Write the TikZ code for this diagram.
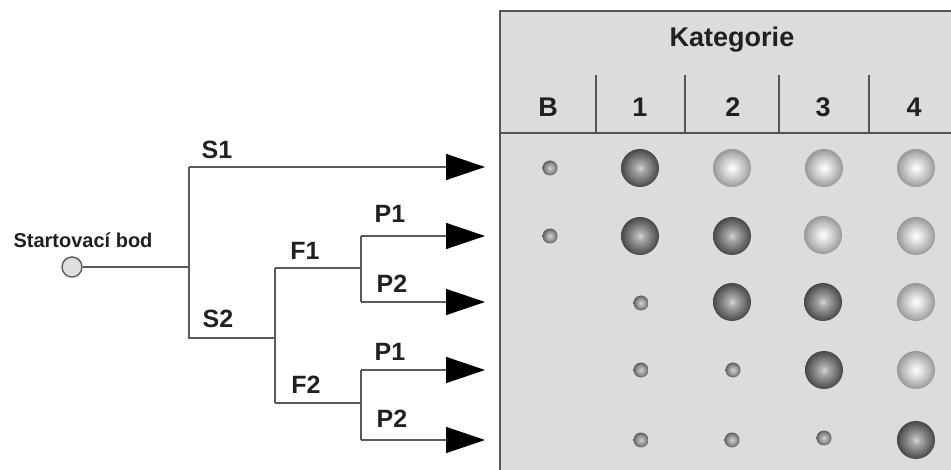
\documentclass[tikz,border=0pt]{standalone}
\usepackage{fontspec}
\setmainfont{Liberation Sans}
\usetikzlibrary{arrows.meta}

% sphere shadings: dark, light and small grey balls
\pgfdeclareradialshading{balldark}{\pgfpoint{0bp}{0bp}}{rgb(0bp)=(0.84,0.84,0.84); rgb(5bp)=(0.68,0.68,0.68); rgb(18bp)=(0.42,0.42,0.42); rgb(27bp)=(0.24,0.24,0.24); rgb(32bp)=(0.15,0.15,0.15); rgb(50bp)=(0.15,0.15,0.15)}
\pgfdeclareradialshading{balllight}{\pgfpoint{0bp}{0bp}}{rgb(0bp)=(1,1,1); rgb(5bp)=(0.93,0.93,0.93); rgb(18bp)=(0.72,0.72,0.72); rgb(27bp)=(0.56,0.56,0.56); rgb(32bp)=(0.42,0.42,0.42); rgb(50bp)=(0.42,0.42,0.42)}
\pgfdeclareradialshading{ballsmall}{\pgfpoint{0bp}{0bp}}{rgb(0bp)=(0.82,0.82,0.82); rgb(14bp)=(0.60,0.60,0.60); rgb(26bp)=(0.36,0.36,0.36); rgb(32bp)=(0.22,0.22,0.22); rgb(50bp)=(0.22,0.22,0.22)}

\definecolor{panelgray}{RGB}{220,220,223}
\definecolor{framegray}{RGB}{85,85,85}
\definecolor{linegray}{RGB}{90,90,90}
\definecolor{textdark}{RGB}{35,31,32}

\tikzset{
  tree/.style={draw=linegray, line width=1.4pt},
  branch/.style={tree, -{Triangle[length=39pt,width=26pt,black]}},
  lbl/.style={anchor=base, inner sep=0pt, text=textdark, font=\bfseries\fontsize{25}{30}\selectfont},
  startlbl/.style={anchor=base, inner sep=0pt, text=textdark, font=\bfseries\fontsize{20}{24}\selectfont},
  headlbl/.style={anchor=base, inner sep=0pt, text=textdark, font=\bfseries\fontsize{27}{32}\selectfont},
  startpt/.style={circle, draw=linegray, line width=1.4pt, fill=panelgray!90!white, minimum size=20pt, inner sep=0pt},
  bigdark/.style={circle, minimum size=38pt, inner sep=0pt, shading=balldark},
  biglight/.style={circle, minimum size=38pt, inner sep=0pt, shading=balllight},
  small/.style={circle, minimum size=15pt, inner sep=0pt, shading=ballsmall},
  sep/.style={draw=framegray, line width=1.1pt},
}

\begin{document}
\begin{tikzpicture}[x=1pt, y=-1pt]
\useasboundingbox (0,0) rectangle (951,470);

% category panel
\fill[panelgray] (500,11) rectangle (951,470);
\draw[sep, line width=1.5pt] (952,11) -- (500,11) -- (500,471);
\draw[sep] (500,133) -- (952,133);
\foreach \x in {596,685,779,869} \draw[sep] (\x,75) -- (\x,133);

\node[headlbl] (kat) at (732,47) {Kategorie};
\node[headlbl] (cB) at (548,117) {B};
\node[headlbl] (c1) at (640,117) {1};
\node[headlbl] (c2) at (733,117) {2};
\node[headlbl] (c3) at (823,117) {3};
\node[headlbl] (c4) at (914,117) {4};

% decision tree
\node[startpt] (start) at (72,267) {};
\node[startlbl] (startname) at (83,248) {Startovací bod};

\coordinate (j0) at (189,267);
\coordinate (s1) at (189,167);
\coordinate (s2) at (189,338);
\coordinate (f0) at (275,338);
\coordinate (f1) at (275,268);
\coordinate (f2) at (275,403);
\coordinate (g1) at (361,268);
\coordinate (g2) at (361,403);
\coordinate (p11) at (361,236);
\coordinate (p12) at (361,302);
\coordinate (p21) at (361,370);
\coordinate (p22) at (361,440);
\coordinate (t1) at (485,167);
\coordinate (t2) at (485,236);
\coordinate (t3) at (485,302);
\coordinate (t4) at (485,370);
\coordinate (t5) at (485,440);

\draw[tree] (start) -- (j0);
\draw[tree] (s1) -- (s2) -- (f0);
\draw[tree] (f1) -- (f2);
\draw[tree] (f1) -- (g1);
\draw[tree] (f2) -- (g2);
\draw[tree] (p11) -- (p12);
\draw[tree] (p21) -- (p22);

\draw[branch] (s1) -- (t1);
\draw[branch] (p11) -- (t2);
\draw[branch] (p12) -- (t3);
\draw[branch] (p21) -- (t4);
\draw[branch] (p22) -- (t5);

\node[lbl] (ls1) at (217,159) {S1};
\node[lbl] (ls2) at (218,328) {S2};
\node[lbl] (lf1) at (305,260) {F1};
\node[lbl] (lf2) at (306,393) {F2};
\node[lbl] (lp11) at (390,223) {P1};
\node[lbl] (lp12) at (392,293) {P2};
\node[lbl] (lp21) at (390,361) {P1};
\node[lbl] (lp22) at (392,428) {P2};

% outcome balls
\node[small]    (b1B) at (550,168) {};
\node[bigdark]  (b11) at (640,168) {};
\node[biglight] (b12) at (732,168) {};
\node[biglight] (b13) at (824,168) {};
\node[biglight] (b14) at (916,168) {};

\node[small]    (b2B) at (550,236) {};
\node[bigdark]  (b21) at (640,236) {};
\node[bigdark]  (b22) at (732,236) {};
\node[biglight] (b23) at (823,235) {};
\node[biglight] (b24) at (916,236) {};

\node[small]    (b31) at (641,303) {};
\node[bigdark]  (b32) at (732,302) {};
\node[bigdark]  (b33) at (823,302) {};
\node[biglight] (b34) at (916,302) {};

\node[small]    (b41) at (641,370) {};
\node[small]    (b42) at (733,370) {};
\node[bigdark]  (b43) at (824,370) {};
\node[biglight] (b44) at (916,370) {};

\node[small]    (b51) at (641,440) {};
\node[small]    (b52) at (732,440) {};
\node[small]    (b53) at (824,438) {};
\node[bigdark]  (b54) at (916,440) {};
\end{tikzpicture}
\end{document}
